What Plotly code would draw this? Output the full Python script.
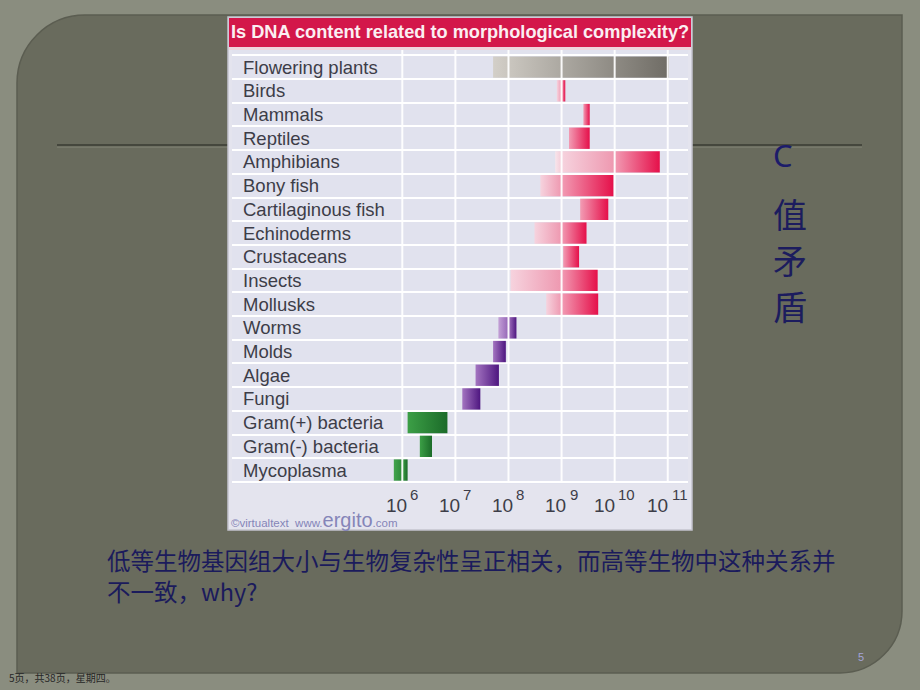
import plotly.graph_objects as go

# ---------------- data ----------------
categories = ["Flowering plants", "Birds", "Mammals", "Reptiles", "Amphibians", "Bony fish",
              "Cartilaginous fish", "Echinoderms", "Crustaceans", "Insects", "Mollusks",
              "Worms", "Molds", "Algae", "Fungi", "Gram(+) bacteria", "Gram(-) bacteria",
              "Mycoplasma"]
# genome size range, log10(bp)
log_min = [7.71, 8.91, 9.41, 9.14, 8.88, 8.60, 9.35, 8.49, 9.03, 8.04, 8.71,
           7.81, 7.71, 7.38, 7.13, 6.10, 6.33, 5.84]
log_max = [11.02, 9.07, 9.53, 9.53, 10.85, 9.98, 9.88, 9.47, 9.33, 9.68, 9.69,
           8.15, 7.95, 7.82, 7.47, 6.85, 6.56, 6.10]
groups = ["plant"] + ["animal"] * 10 + ["lower"] * 4 + ["bacteria"] * 3
tick_exps = [6, 7, 8, 9, 10, 11]

title = "Is DNA content related to morphological complexity?"
caption_lines = ["低等生物基因组大小与生物复杂性呈正相关，而高等生物中这种关系并",
                 "不一致，why?"]
side_c = "C"
side_chars = ["值", "矛", "盾"]
footer = "5页，共38页，星期四。"
page_no = "5"

# ---------------- style ----------------
W, H = 920, 690
def fx(p): return p / W
def fy(p): return 1 - p / H

palette = {
    # piece index from the right: 0 = last piece, 1, 2 ...
    "animal": [["#f29cb4", "#e5104a"], ["#f6d3de", "#ee98b0"], ["#f8e5eb", "#f3cbd7"]],
    "lower": [["#a374c0", "#4e1680"], ["#c3a0d6", "#9464b6"], ["#d0b4e0", "#b08ccc"]],
    "bacteria": [["#3c9f46", "#1b6b29"], ["#42a44c", "#2c8838"], ["#4aa854", "#36903f"]],
    "plant": [["#d3cfc8", "#6f6c65"]],
}
HALF = 0.45
SANS = "Liberation Sans, Arial, sans-serif"
CJK = "Noto Sans CJK SC, sans-serif"

fig = go.Figure()

# bars split at decade lines, each piece with a horizontal gradient
for i, (lo, hi, g) in enumerate(zip(log_min, log_max, groups)):
    if g == "plant":
        cuts = [lo, hi]
    else:
        inner = [d for d in tick_exps if lo < d < hi]
        cuts = [lo] + inner + [hi]
    npieces = len(cuts) - 1
    for j in range(npieces):
        a, b = cuts[j], cuts[j + 1]
        k = min(npieces - 1 - j, len(palette[g]) - 1)
        c1, c2 = palette[g][k]
        fig.add_trace(go.Scatter(
            x=[a, b, b, a, a], y=[i - HALF, i - HALF, i + HALF, i + HALF, i - HALF],
            mode="none", fill="toself",
            fillgradient=dict(type="horizontal", colorscale=[[0, c1], [1, c2]]),
            hoverinfo="skip", showlegend=False))

# vertical decade lines drawn over the bars
gx, gy = [], []
for e in tick_exps:
    gx += [e, e, None]
    gy += [-0.85, len(categories) - 0.5, None]
fig.add_trace(go.Scatter(x=gx, y=gy, mode="lines",
                         line=dict(color="rgba(255,255,255,0.92)", width=2),
                         hoverinfo="skip", showlegend=False))

# ---------------- shapes (slide + picture frame) ----------------
def rounded_panel(L, T, R, B, r1, r2):
    k = 0.4477
    pts = [
        f"M {fx(L)},{fy(T + r1)}",
        f"C {fx(L)},{fy(T + k * r1)} {fx(L + k * r1)},{fy(T)} {fx(L + r1)},{fy(T)}",
        f"L {fx(R)},{fy(T)}",
        f"L {fx(R)},{fy(B - r2)}",
        f"C {fx(R)},{fy(B - k * r2)} {fx(R - k * r2)},{fy(B)} {fx(R - r2)},{fy(B)}",
        f"L {fx(L)},{fy(B)} Z",
    ]
    return " ".join(pts)

shapes = [
    dict(type="path", xref="paper", yref="paper", layer="below",
         path=rounded_panel(17, 15, 902, 673, 68, 62),
         fillcolor="#696b5d", line=dict(color="#5b5d51", width=1.5)),
    dict(type="line", xref="paper", yref="paper", layer="below",
         x0=fx(57), x1=fx(862), y0=fy(145), y1=fy(145),
         line=dict(color="#45473d", width=2)),
    dict(type="line", xref="paper", yref="paper", layer="below",
         x0=fx(57), x1=fx(862), y0=fy(147.2), y1=fy(147.2),
         line=dict(color="#7e8072", width=1)),
    # picture background
    dict(type="rect", xref="paper", yref="paper", layer="below",
         x0=fx(228), x1=fx(692), y0=fy(17), y1=fy(530),
         fillcolor="#e4e4ee", line=dict(color="#c4c4ce", width=1.5)),
    # title band
    dict(type="rect", xref="paper", yref="paper", layer="below",
         x0=fx(229), x1=fx(691), y0=fy(18), y1=fy(47),
         fillcolor="#d3174a", line=dict(width=0)),
    dict(type="rect", xref="paper", yref="paper", layer="below",
         x0=fx(229), x1=fx(691), y0=fy(47), y1=fy(50),
         fillcolor="#efd3dc", line=dict(width=0)),
    # plot area bg
    dict(type="rect", xref="paper", yref="paper", layer="below",
         x0=fx(232), x1=fx(688), y0=fy(50), y1=fy(484),
         fillcolor="#e1e2ee", line=dict(width=0)),
]

# ---------------- annotations ----------------
ann = []
ann.append(dict(text=title, xref="paper", yref="paper", x=fx(460), y=fy(32.5),
                xanchor="center", yanchor="middle", showarrow=False,
                font=dict(family=SANS, size=18.2, color="#fbeef2", weight="bold")))
for i, c in enumerate(categories):
    ann.append(dict(text=c, xref="paper", yref="y", x=fx(241), y=i,
                    xanchor="left", yanchor="middle", showarrow=False,
                    font=dict(family=SANS, size=18.5, color="#3d3d48")))
for e in tick_exps:
    s = str(e)
    n = len(s)
    base_w = 21.0
    exp_w = 8.3 * n
    total = base_w + 3 + exp_w
    ann.append(dict(text="10", xref="x", yref="paper", x=e, y=fy(505),
                    xshift=-total / 2 + base_w / 2, xanchor="center", yanchor="middle",
                    showarrow=False,
                    font=dict(family=SANS, size=19, color="#3d3d48")))
    ann.append(dict(text=s, xref="x", yref="paper", x=e, y=fy(494),
                    xshift=total / 2 - exp_w / 2, xanchor="center", yanchor="middle",
                    showarrow=False,
                    font=dict(family=SANS, size=15, color="#3d3d48")))
ann.append(dict(text="©virtualtext  www.<span style='font-size:20px'>ergito</span>.com",
                xref="paper", yref="paper", x=fx(229), y=fy(520),
                xanchor="left", yanchor="middle", showarrow=False,
                font=dict(family=SANS, size=11.5, color="#8585b8")))
for line, yy in zip(caption_lines, [560, 591]):
    ann.append(dict(text=line, xref="paper", yref="paper", x=fx(105), y=fy(yy),
                    xanchor="left", yanchor="middle", align="left", showarrow=False,
                    font=dict(family=CJK, size=23.5, color="#1b1b5c")))
ann.append(dict(text=side_c, xref="paper", yref="paper", x=fx(783), y=fy(155),
                xanchor="center", yanchor="middle", showarrow=False,
                font=dict(family="Noto Sans, sans-serif", size=31, color="#1c1c6a")))
for ch, yy in zip(side_chars, [213, 259, 305]):
    ann.append(dict(text=ch, xref="paper", yref="paper", x=fx(790), y=fy(yy),
                    xanchor="center", yanchor="middle", showarrow=False,
                    font=dict(family=CJK, size=34, color="#1c1c5e")))
ann.append(dict(text=footer, xref="paper", yref="paper", x=fx(7), y=fy(677),
                xanchor="left", yanchor="middle", showarrow=False,
                font=dict(family=CJK, size=10, color="#262626")))
ann.append(dict(text=page_no, xref="paper", yref="paper", x=fx(861), y=fy(657),
                xanchor="center", yanchor="middle", showarrow=False,
                font=dict(family=SANS, size=11, color="#a4a4d8")))

# ---------------- layout ----------------
x_lo = 6 + (232 - 402.3) / 53.09
x_hi = 6 + (688 - 402.3) / 53.09
n = len(categories)
row_px = 23.7
top_val = -0.5 - (55.3 - 50) / row_px
bot_val = n - 0.5 + (484 - (55.3 + n * row_px)) / row_px

fig.update_layout(
    width=W, height=H, margin=dict(l=0, r=0, t=0, b=0),
    paper_bgcolor="#8a8d7f", plot_bgcolor="rgba(0,0,0,0)",
    showlegend=False,
    xaxis=dict(domain=[fx(232), fx(688)], range=[x_lo, x_hi], showgrid=False,
               zeroline=False, showticklabels=False, ticks="", fixedrange=True),
    yaxis=dict(domain=[fy(484), fy(50)], range=[bot_val, top_val],
               tickvals=[v - 0.5 for v in range(n + 1)], showticklabels=False,
               ticks="", showgrid=True, gridcolor="#ffffff", gridwidth=2,
               zeroline=False, fixedrange=True),
    shapes=shapes, annotations=ann,
)

fig.write_html("out.html")
